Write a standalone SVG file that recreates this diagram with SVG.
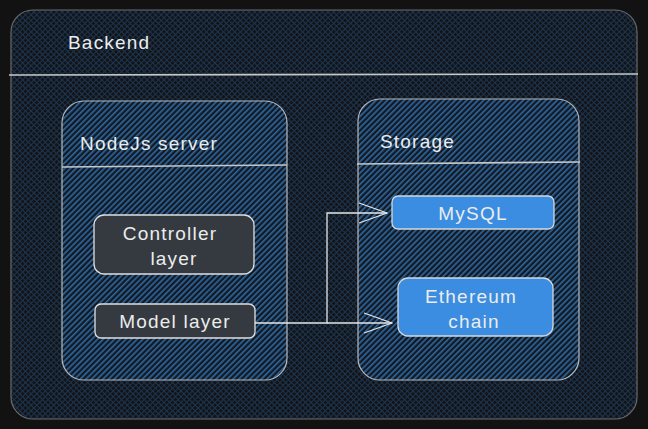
<svg xmlns="http://www.w3.org/2000/svg" width="648" height="429" viewBox="0 0 648 429">
<defs>
<pattern id="hatch" patternUnits="userSpaceOnUse" width="4" height="4" patternTransform="rotate(45)">
<rect width="4" height="4" fill="#15191f"/>
<rect width="1.6" height="4" fill="#2a6aa8"/>
</pattern>
<pattern id="cross" patternUnits="userSpaceOnUse" width="4" height="4" patternTransform="rotate(45)">
<rect width="4" height="4" fill="#121417"/>
<rect width="1" height="4" fill="#1c3550"/>
<rect width="4" height="1" fill="#1c3550"/>
</pattern>
<marker id="arr" viewBox="0 0 30 24" refX="29" refY="12" markerWidth="30" markerHeight="24" markerUnits="userSpaceOnUse" orient="auto">
<path d="M1 2 L29 12 L1 22" fill="none" stroke="#e6e6e6" stroke-width="1.3"/>
</marker>
</defs>
<style>
text{font-family:"Liberation Sans","DejaVu Sans",sans-serif;font-size:19px;letter-spacing:1.2px;fill:#ececec}
.frame{stroke:#b8b8b8;stroke-width:1.2}
.div{stroke:#c8c8c8;stroke-width:1.6}
.dark{fill:#343a40;stroke:#e0e0e0;stroke-width:1.3}
.blue{fill:#3a8de0;stroke:#d8d8d8;stroke-width:1.3}
.con{fill:none;stroke:#e6e6e6;stroke-width:1.3}
</style>
<rect width="648" height="429" fill="#121212"/>
<g id="backend">
<rect x="11" y="10" width="626" height="409" rx="22" fill="url(#cross)" stroke="#6a6a6a" stroke-width="1.2"/>
<line x1="9" y1="75" x2="638" y2="74" class="div" stroke="#9a9a9a"/>
<text x="68" y="49">Backend</text>
</g>
<g id="nodejs">
<rect x="62" y="101" width="225" height="279" rx="22" fill="url(#hatch)" class="frame"/>
<line x1="62" y1="167" x2="287" y2="165" class="div"/>
<text x="80" y="150">NodeJs server</text>
</g>
<g id="storage">
<rect x="358" y="99" width="221" height="281" rx="22" fill="url(#hatch)" class="frame"/>
<line x1="357" y1="164" x2="580" y2="162" class="div"/>
<text x="380" y="148">Storage</text>
</g>
<g id="controller">
<rect x="94" y="215" width="160" height="59" rx="10" class="dark"/>
<text x="170" y="240" text-anchor="middle">Controller</text>
<text x="174" y="265" text-anchor="middle">layer</text>
</g>
<g id="model">
<rect x="95" y="304" width="160" height="34" rx="6" class="dark"/>
<text x="175" y="328" text-anchor="middle">Model layer</text>
</g>
<g id="mysql">
<rect x="392" y="196" width="162" height="33" rx="6" class="blue"/>
<text x="473" y="220" text-anchor="middle">MySQL</text>
</g>
<g id="ethereum">
<rect x="398" y="278" width="155" height="58" rx="10" class="blue"/>
<text x="471" y="303" text-anchor="middle">Ethereum</text>
<text x="474" y="328" text-anchor="middle">chain</text>
</g>
<g id="connectors">
<path d="M255 323 L327 323 L327 213 L387 213" class="con" marker-end="url(#arr)"/>
<path d="M327 323 L392 323" class="con" marker-end="url(#arr)"/>
</g>
</svg>
